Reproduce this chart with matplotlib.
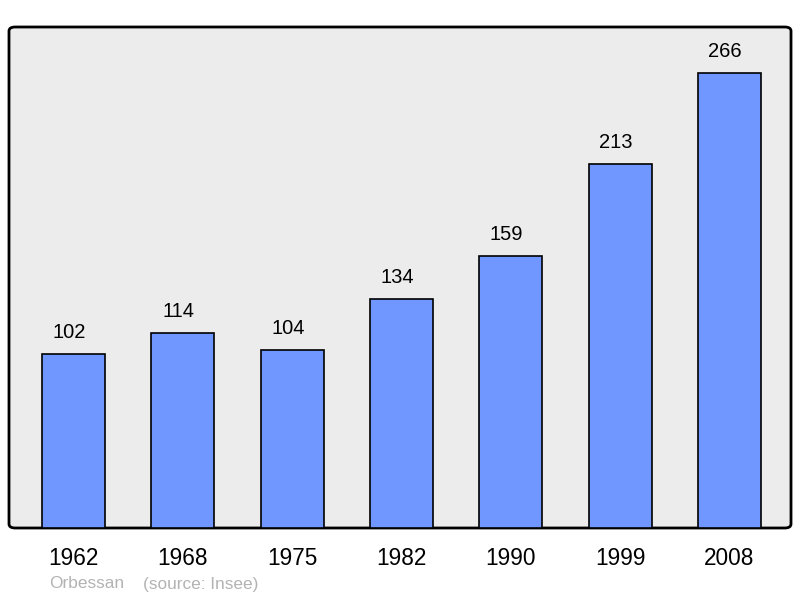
import numpy as np
from matplotlib import pyplot as plt
from matplotlib.patches import FancyBboxPatch

plt.rcParams['font.family'] = ['Liberation Sans', 'DejaVu Sans']

# Population data
years = ['1962', '1968', '1975', '1982', '1990', '1999', '2008']
population = [102, 114, 104, 134, 159, 213, 266]

fig = plt.figure(figsize=(8, 5.98), dpi=100)
# axes spans the framed area (pixels 9..791 x, 27..528 y)
ax = fig.add_axes([9/800, (598-528)/598, 782/800, 501/598])

x = np.arange(len(years))
ax.bar(x, population, width=0.576, color='#7096ff', edgecolor='black',
       linewidth=1.2, zorder=3)

for xi, val in zip(x, population):
    ax.text(xi - 0.04, val + 7, str(val), ha='center', va='bottom',
            fontsize=14.5, color='black', zorder=4)

ax.set_xlim(-0.59, len(years) - 1 + 0.5625)
ax.set_ylim(0, 293)
ax.set_xticks(x)
ax.set_xticklabels(years, fontsize=16.3)
ax.tick_params(axis='x', length=0, pad=14)
ax.set_yticks([])
for s in ax.spines.values():
    s.set_visible(False)
ax.patch.set_visible(False)

# rounded frame with grey background
frame = FancyBboxPatch((0, 0), 1, 1, boxstyle='round,pad=0,rounding_size=0.008',
                       transform=ax.transAxes, facecolor='#ececec',
                       edgecolor='black', linewidth=2, zorder=0, clip_on=False)
ax.add_patch(frame)

fig.text(49/800, 1 - 584/598, 'Orbessan', fontsize=12.4, color='#b3b3b3',
         ha='left', va='center')
fig.text(143/800, 1 - 584/598, '(source: Insee)', fontsize=12.4, color='#b3b3b3',
         ha='left', va='center')

fig.savefig('out.png', dpi=100)
